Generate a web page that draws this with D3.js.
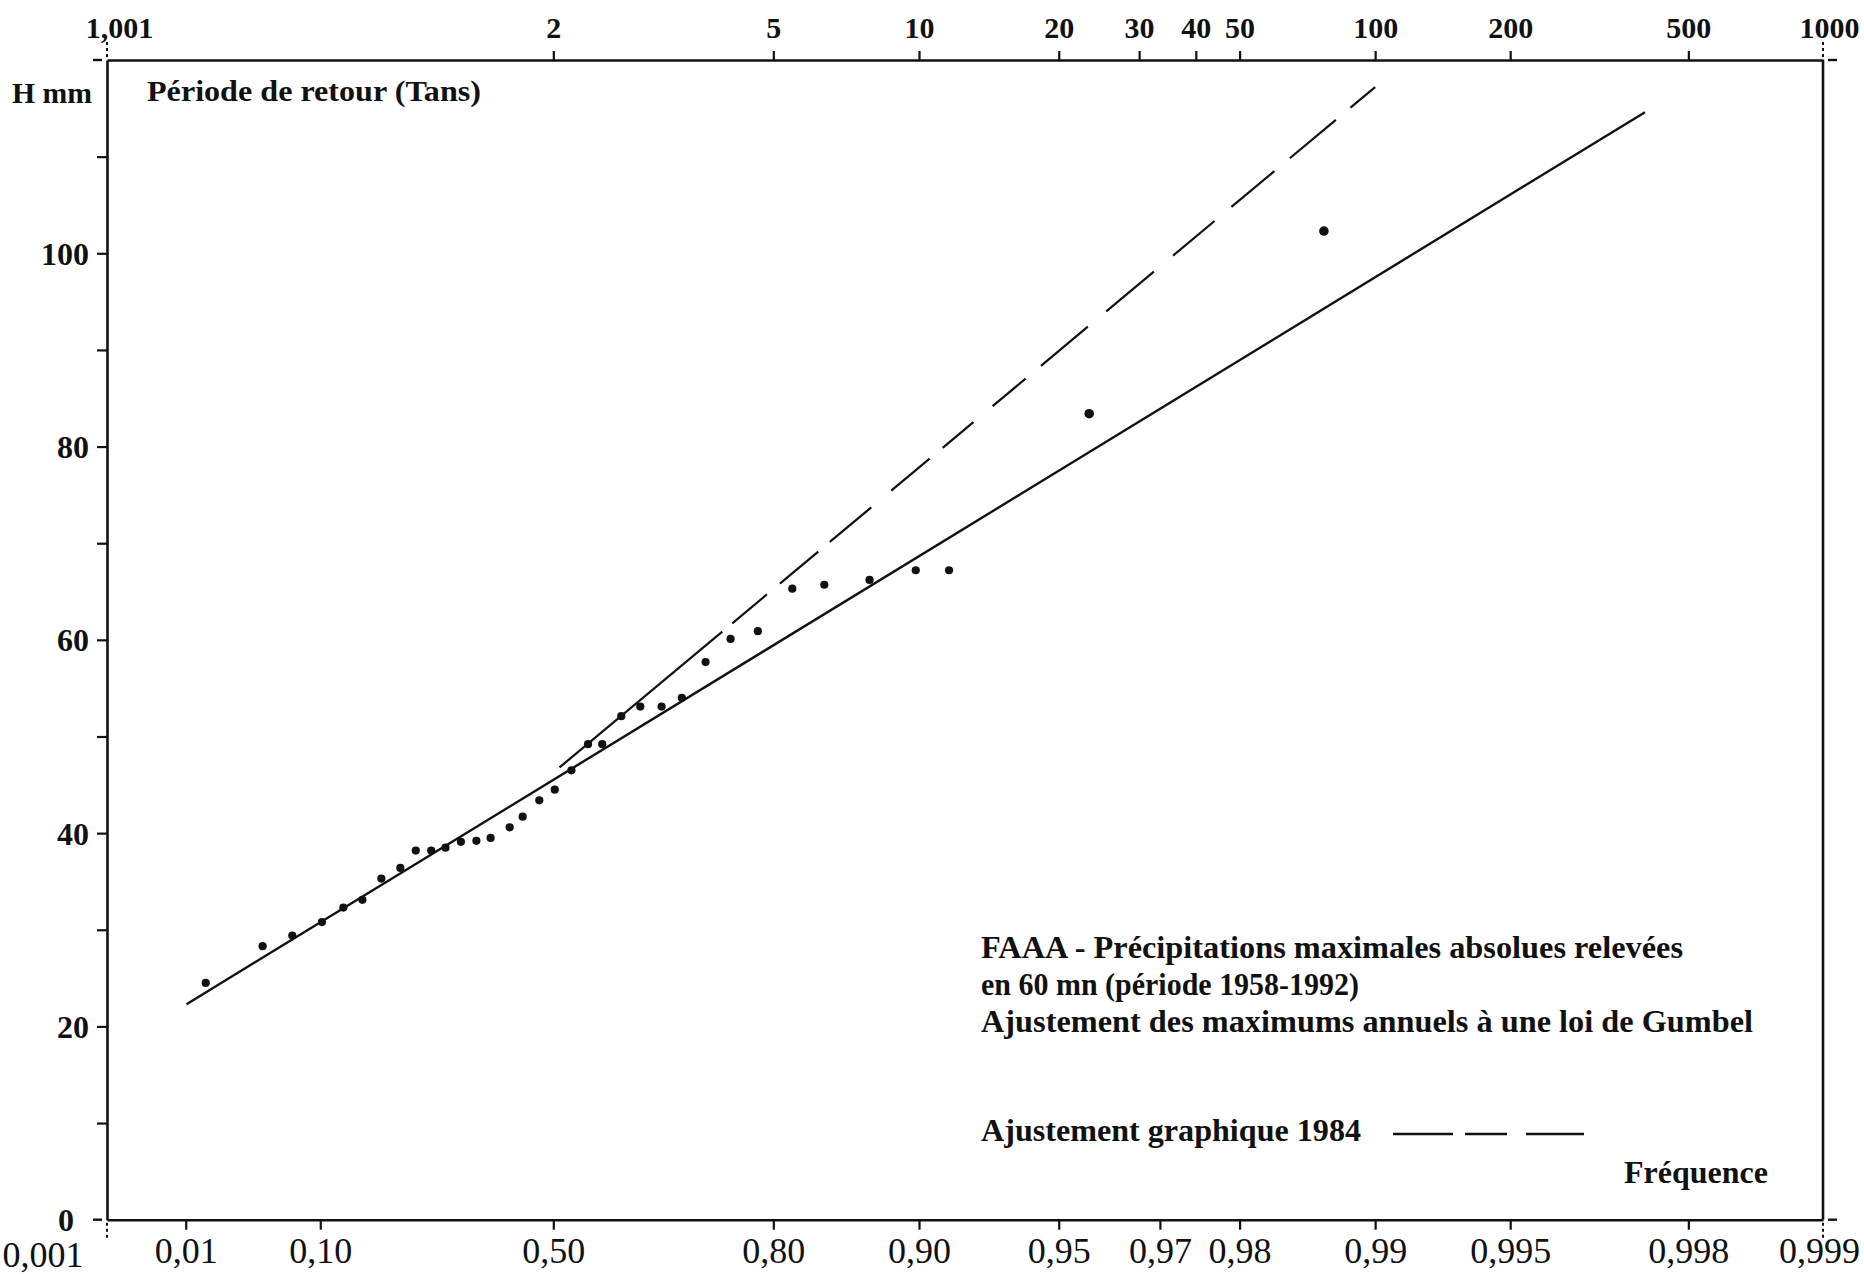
<!DOCTYPE html>
<html>
<head>
<meta charset="utf-8">
<script src="https://cdn.jsdelivr.net/npm/d3@7"></script>
<style>
  html, body { margin: 0; padding: 0; background: #fff; }
  svg { display: block; }
  text { font-family: "Liberation Serif", "Times New Roman", serif; fill: #111; }
</style>
</head>
<body>
<svg id="chart" width="1864" height="1274"></svg>
<script>
// Annual maximum 60-min rainfall at Faaa, 1958-1992, sorted, with their plotting frequencies
const frequencies = [0.0157, 0.0451, 0.0700, 0.1020, 0.1295, 0.1567, 0.1862, 0.2178, 0.2447, 0.2725,
                     0.2988, 0.3277, 0.3569, 0.3839, 0.4198, 0.4441, 0.4747, 0.5026, 0.5318, 0.5601,
                     0.5835, 0.6136, 0.6422, 0.6725, 0.6994, 0.7288, 0.7572, 0.7853, 0.8168, 0.8423,
                     0.8729, 0.8984, 0.9137, 0.9571, 0.9870];
const rainfallMm = [24.5, 28.3, 29.4, 30.8, 32.3, 33.1, 35.3, 36.4, 38.2, 38.2,
                    38.5, 39.1, 39.2, 39.5, 40.6, 41.7, 43.4, 44.5, 46.5, 49.2,
                    49.2, 52.1, 53.1, 53.1, 54.0, 57.7, 60.1, 60.9, 65.3, 65.7,
                    66.2, 67.2, 67.2, 83.4, 102.3];

// Gumbel adjustment (solid) and 1984 graphical adjustment (dashed), end points
const gumbelFitFreq = [0.0102, 0.9975];
const gumbelFitMm = [22.3, 114.6];
const graphic1984Freq = [0.511, 0.990];
const graphic1984Mm = [46.8, 117.2];

// Axis ticks
const freqTicks = [0.001, 0.01, 0.10, 0.50, 0.80, 0.90, 0.95, 0.97, 0.98, 0.99, 0.995, 0.998, 0.999];
const freqTickLabels = ["0,001", "0,01", "0,10", "0,50", "0,80", "0,90", "0,95", "0,97", "0,98", "0,99", "0,995", "0,998", "0,999"];
const returnPeriods = [1.001, 2, 5, 10, 20, 30, 40, 50, 100, 200, 500, 1000];
const returnPeriodLabels = ["1,001", "2", "5", "10", "20", "30", "40", "50", "100", "200", "500", "1000"];
const mmTicks = [0, 10, 20, 30, 40, 50, 60, 70, 80, 90, 100, 110];
const mmTickLabels = ["0", "", "20", "", "40", "", "60", "", "80", "", "100", ""];

const legendLines = [
  "FAAA - Précipitations maximales absolues relevées",
  "en 60 mn (période 1958-1992)",
  "Ajustement des maximums annuels à une loi de Gumbel"
];

// Gumbel reduced variate: the probability paper is linear in it
const gumbel = f => -Math.log(-Math.log(f));

const plotLeft = 107, plotRight = 1823, plotBottom = 1219.7, plotTop = 60;
const x = d3.scaleLinear().domain([gumbel(0.001), gumbel(0.999)]).range([plotLeft, plotRight]);
const y = d3.scaleLinear().domain([0, 120]).range([plotBottom, plotTop]);
const fx = f => x(gumbel(f));

const svg = d3.select("#chart");

// Frequency axis (bottom)
const gB = svg.append("g").attr("transform", `translate(0,${plotBottom})`)
  .call(d3.axisBottom(x).tickValues(freqTicks.map(gumbel))
    .tickFormat((d, i) => freqTickLabels[i]).tickSize(10).tickSizeOuter(0));
gB.select(".domain").attr("stroke", "#111").attr("stroke-width", 2.6);
gB.selectAll(".tick line").attr("stroke", "#111").attr("stroke-width", 2.2)
  .attr("opacity", (d, i) => (i === 0 || i === freqTicks.length - 1) ? 0 : 1);
gB.selectAll(".tick text").attr("y", 43).attr("dy", 0)
  .style("font-size", "36px").attr("fill", "#111")
  .attr("text-anchor", (d, i) => i === 0 ? "end" : "middle")
  .attr("x", (d, i) => i === 0 ? -24 : (i === freqTicks.length - 1 ? -4 : 0));
gB.select(".tick text").attr("y", 47);

// Return period axis (top)
const gT = svg.append("g").attr("transform", `translate(0,${plotTop})`)
  .call(d3.axisTop(x).tickValues(returnPeriods.map(T => gumbel(1 - 1 / T)))
    .tickFormat((d, i) => returnPeriodLabels[i]).tickSize(9).tickSizeOuter(0));
gT.select(".domain").attr("stroke", "#111").attr("stroke-width", 2.6);
gT.selectAll(".tick line").attr("stroke", "#111").attr("stroke-width", 2.2)
  .attr("opacity", (d, i) => (i === 0 || i === returnPeriods.length - 1) ? 0 : 1);
gT.selectAll(".tick text").attr("y", -22).attr("dy", 0)
  .style("font-size", "30px").style("font-weight", "bold").attr("fill", "#111")
  .attr("x", (d, i) => i === 0 ? 12 : (i === returnPeriods.length - 1 ? 6 : 0));

// Rainfall axis (left)
const gL = svg.append("g").attr("transform", `translate(${plotLeft},0)`)
  .call(d3.axisLeft(y).tickValues(mmTicks)
    .tickFormat((d, i) => mmTickLabels[i]).tickSize(10).tickSizeOuter(0));
gL.select(".domain").attr("stroke", "#111").attr("stroke-width", 2.6);
gL.selectAll(".tick line").attr("stroke", "#111").attr("stroke-width", 2.2)
  .attr("opacity", (d, i) => i === 0 ? 0 : 1);
gL.selectAll(".tick text").attr("x", -18).attr("dy", "0.34em")
  .style("font-size", "32px").style("font-weight", "bold").attr("fill", "#111");
gL.select(".tick text").attr("x", -33);

// Right frame line
svg.append("line").attr("x1", plotRight).attr("x2", plotRight).attr("y1", plotTop).attr("y2", plotBottom)
  .attr("stroke", "#111").attr("stroke-width", 2.6);

// Corner registration marks
const corners = [[plotLeft, plotTop, -1, -1], [plotRight, plotTop, 1, -1],
                 [plotLeft, plotBottom, -1, 1], [plotRight, plotBottom, 1, 1]];
corners.forEach(([cx, cy, sx, sy]) => {
  svg.append("line").attr("x1", cx).attr("x2", cx).attr("y1", cy + sy * 3).attr("y2", cy + sy * 18)
    .attr("stroke", "#111").attr("stroke-width", 2).attr("stroke-dasharray", "3,3");
  svg.append("line").attr("x1", cx + sx * 5).attr("x2", cx + sx * 14).attr("y1", cy).attr("y2", cy)
    .attr("stroke", "#111").attr("stroke-width", 2.4);
});

// Axis titles
svg.append("text").attr("x", 12).attr("y", 103).text("H mm")
  .style("font-size", "30px").style("font-weight", "bold")
  .attr("textLength", 80).attr("lengthAdjust", "spacingAndGlyphs");
svg.append("text").attr("x", 147).attr("y", 101).text("Période de retour (Tans)")
  .style("font-size", "30px").style("font-weight", "bold")
  .attr("textLength", 334).attr("lengthAdjust", "spacingAndGlyphs");

const line = d3.line().x(d => fx(d[0])).y(d => y(d[1]));

// Gumbel adjustment
svg.append("path").datum(d3.zip(gumbelFitFreq, gumbelFitMm)).attr("d", line)
  .attr("fill", "none").attr("stroke", "#111").attr("stroke-width", 2.4);

// 1984 graphical adjustment
svg.append("path").datum(d3.zip(graphic1984Freq, graphic1984Mm)).attr("d", line)
  .attr("fill", "none").attr("stroke", "#111").attr("stroke-width", 2.2)
  .attr("stroke-dasharray", "212,13,45,17,50,15,54,26,50,17,40,25,43,20,61,24,62,25,54,22,56,20,60,19,44");

// Observed annual maxima
svg.append("g").selectAll("circle").data(d3.zip(frequencies, rainfallMm)).join("circle")
  .attr("cx", d => fx(d[0])).attr("cy", d => y(d[1]))
  .attr("r", (d, i) => i >= frequencies.length - 2 ? 4.8 : 4.1)
  .attr("fill", "#111");

// Legend
const legend = svg.append("g").style("font-weight", "bold").style("font-size", "31px");
const legendWidths = [702, 378, 772];
const legendBase = [958, 995, 1032];
legendLines.forEach((t, i) => {
  legend.append("text").attr("x", 981).attr("y", legendBase[i]).text(t)
    .attr("textLength", legendWidths[i]).attr("lengthAdjust", "spacingAndGlyphs");
});
legend.append("text").attr("x", 981).attr("y", 1141).text("Ajustement graphique 1984")
  .attr("textLength", 380).attr("lengthAdjust", "spacingAndGlyphs");
svg.append("line").attr("x1", 1393).attr("x2", 1584).attr("y1", 1134).attr("y2", 1134)
  .attr("stroke", "#111").attr("stroke-width", 2.4).attr("stroke-dasharray", "60,12,42,19,58");
legend.append("text").attr("x", 1624).attr("y", 1183).text("Fréquence")
  .attr("textLength", 144).attr("lengthAdjust", "spacingAndGlyphs");
</script>
</body>
</html>
